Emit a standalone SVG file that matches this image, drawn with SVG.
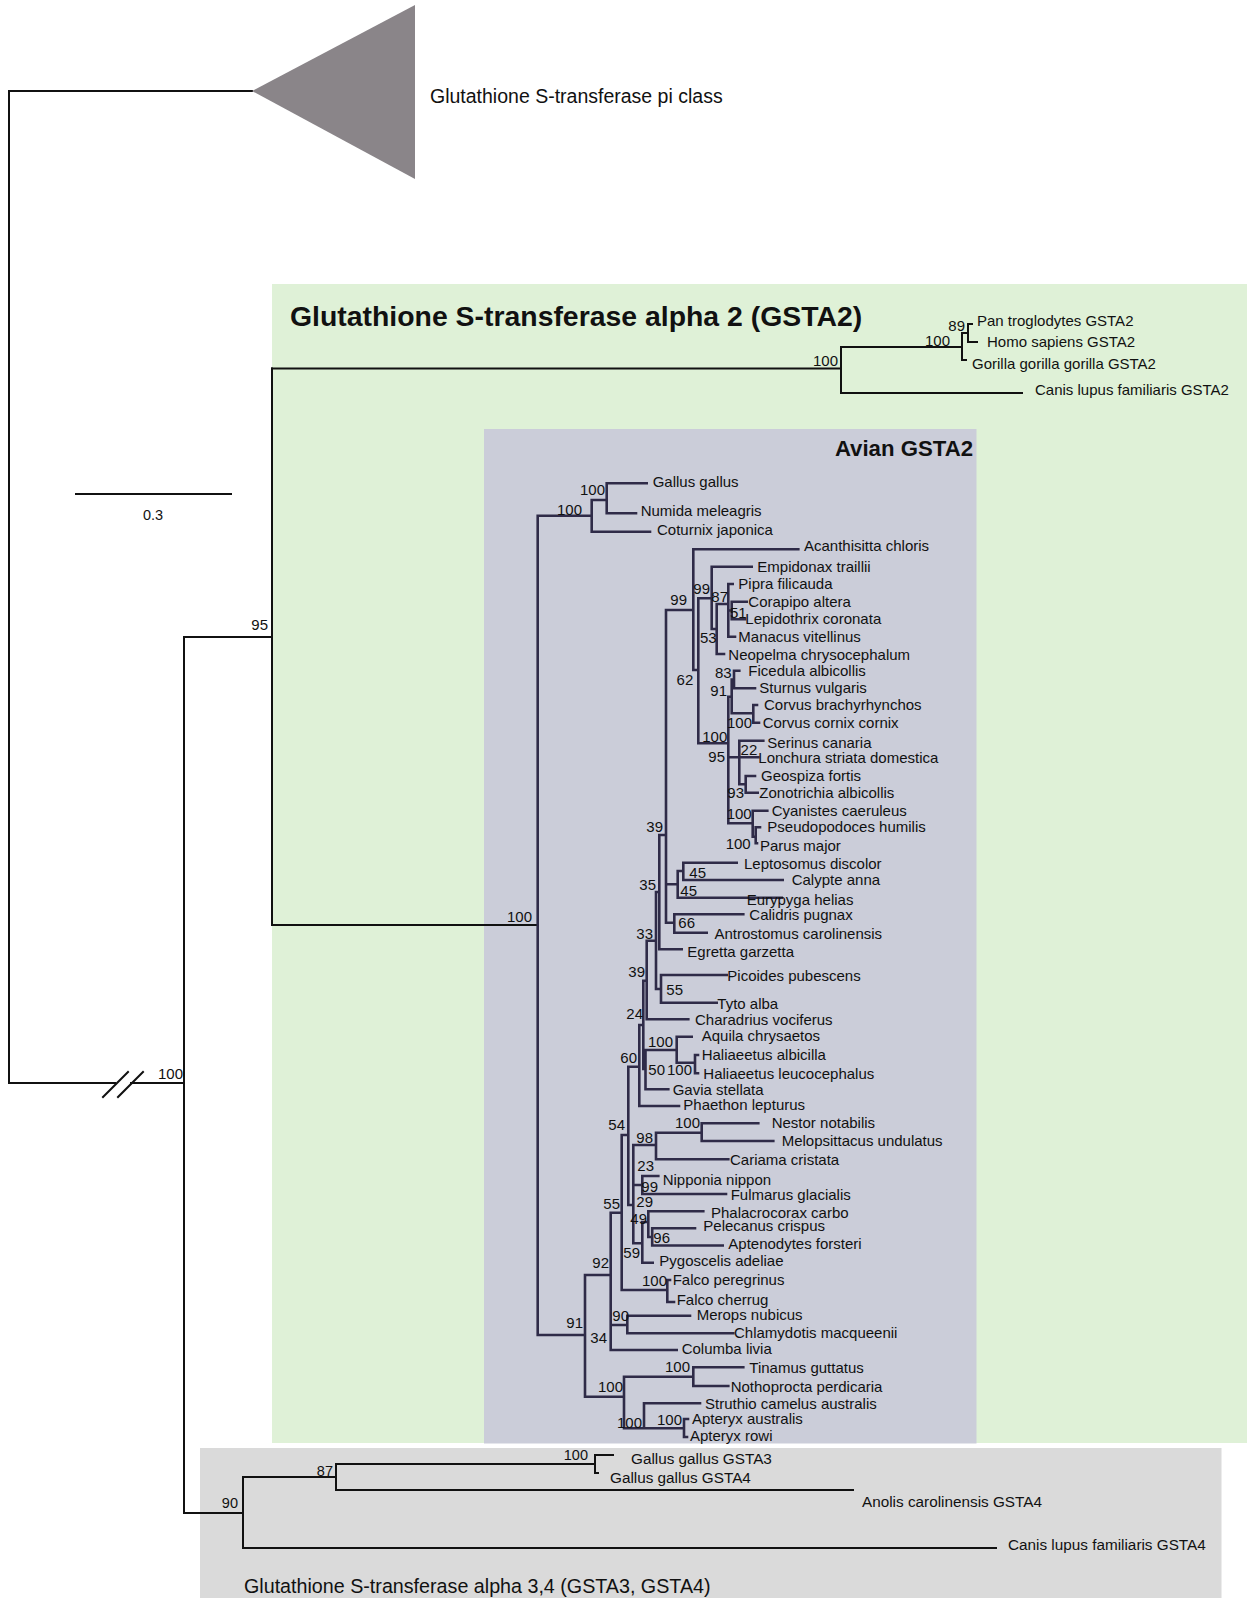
<svg xmlns="http://www.w3.org/2000/svg" width="1247" height="1598" viewBox="0 0 1247 1598">
<style>
text{font-family:"Liberation Sans",Arial,sans-serif;fill:#111}
.t{font-size:15px}
.s{font-size:15px;text-anchor:end}
.b{font-size:15.3px}
.bs{font-size:14.5px;text-anchor:end}
.ln{fill:none;stroke:#111;stroke-width:2;stroke-linecap:square}
.av{fill:none;stroke:#2f2b48;stroke-width:2.6;stroke-linecap:square}
</style>
<rect width="1247" height="1598" fill="#fff"/>
<g id="box-gsta2"><rect x="272" y="284" width="975" height="1159" fill="#dff1d7"/></g>
<g id="box-avian"><rect x="484" y="429" width="492.5" height="1014.5" fill="#cbcdd9"/></g>
<g id="box-gsta34"><rect x="200" y="1448" width="1021.5" height="150" fill="#dadada"/></g>

<g id="connectors">
<path class="ln" d="M9 91H252M9 91V1083M9 1083H115M131 1083H184M184 637V1513M184 637H272M272 368.5V925M272 925H537.7"/>
<path class="ln" d="M103 1097L128 1072M118 1097L143 1072"/>
<path class="ln" d="M272 368.5H841M841 347V393M841 347H962M962 333V360M962 333H968M968 324V342M968 324H972M968 342H977M962 360H966M841 393H1022"/>
<path class="ln" d="M184 1513H243M243 1477V1548M243 1477H336M336 1464V1490M336 1464H595M595 1455V1473M595 1455H613M595 1473H598M336 1490H853M243 1548H996"/>
<path class="ln" d="M76 494H231"/>
<path class="av" d="M537.7 515.7V1335
M537.7 515.7H591.7M591.7 500V531.7M591.7 500H606.7M606.7 483.3V513.3M606.7 483.3H646.7M606.7 513.3H636M591.7 531.7H650
M537.7 1335H585M585 1275V1396.7
M585 1396.7H624M624 1376.7V1428.3M624 1376.7H693.3M693.3 1367.3V1386M693.3 1367.3H743.3M693.3 1386H728.3M624 1428.3H644M644 1403.3V1428.3M644 1403.3H700M644 1428.3H684M684 1419V1437M684 1419H688M684 1437H687
M585 1275H610.7M610.7 1212.7V1350M610.7 1325H627.3M627.3 1315.7V1333.3M627.3 1315.7H690M627.3 1333.3H733.3M610.7 1350H676.7
M610.7 1212.7H621.7M621.7 1135V1290M621.7 1290H667.3M667.3 1280V1302M667.3 1280H670M667.3 1302H674
M621.7 1135H628.3M628.3 1066.7V1205M628.3 1205H633.3M633.3 1145V1243.3
M633.3 1145H656M656 1132.7V1159.3M656 1132.7H701.7M701.7 1123.3V1141M701.7 1123.3H758.3M701.7 1141H773.3M656 1159.3H728.3
M633.3 1185H642.3M642.3 1176V1194M642.3 1176H658.3M642.3 1194H726
M633.3 1243.3H642.3M642.3 1222V1262.7M642.3 1222H648.3M648.3 1211.2V1237M648.3 1211.2H703.3M648.3 1237H652.2M652.2 1228.3V1245.5M652.2 1228.3H695M652.2 1245.5H722.7M642.3 1262.7H652.7
M628.3 1066.7H639.3M639.3 1025V1106M639.3 1106H679
M639.3 1025H643.3M643.3 980.7V1069M643.3 1069H645.5M645.5 1050V1089.3M645.5 1089.3H668.3M645.5 1050H676.7M676.7 1036.7V1062.7M676.7 1036.7H691.7M676.7 1062.7H695M695 1055V1073.3M695 1055H698M695 1073.3H698
M643.3 980.7H646.7M646.7 940.7V1019.3M646.7 1019.3H688.3
M646.7 940.7H656M656 892V989M656 989H661M661 975V1002.7M661 975H726.7M661 1002.7H716.7
M656 892H659.3M659.3 835V949.3M659.3 949.3H681.7
M659.3 835H666M666 610V922.7M666 884.3H677.7M677.7 871V897.7M677.7 871H683.3M683.3 862.7V880M683.3 862.7H736.7M683.3 880H782.7M677.7 897.7H781.7M666 922.7H674.3M674.3 914.3V932.7M674.3 914.3H743.3M674.3 932.7H706.7
M666 610H693.3M693.3 549.3V670M693.3 549.3H798.3M693.3 670H698.3M698.3 598.3V743.3
M698.3 598.3H711.7M711.7 566.7V629M711.7 566.7H751.7M711.7 629H716.7M716.7 604V654M716.7 654H724M716.7 604H728.3M728.3 584V636.7M728.3 584H732.7M728.3 636.7H735M728.3 610.5H731.7M731.7 601.7V619.3M731.7 601.7H746.7M731.7 619.3H745
M698.3 743.3H728.3M728.3 696.7V823.3M728.3 696.7H731.7M731.7 679.5V713.3M731.7 679.5H734M734 670.7V688.3M734 670.7H739.3M734 688.3H755M731.7 713.3H753.3M753.3 705V722.7M753.3 705H757M753.3 722.7H759
M728.3 757.3H758.3M739.3 740.7V784.3M739.3 740.7H763.3M739.3 784.3H745.7M745.7 776V792.7M745.7 776H755M745.7 792.7H757.7
M728.3 823.3H752.7M752.7 810.7V836.7M752.7 810.7H767.3M752.7 836.7H755.7M755.7 827.3V843.3M755.7 827.3H760M755.7 843.3H757"/>
</g>

<g id="pi-class">
<polygon points="252,91 415,5 415,179" fill="#8a8589"/>
<text x="430" y="103" style="font-size:19.5px">Glutathione S-transferase pi class</text>
</g>

<g id="titles">
<text x="290" y="326" style="font-size:28.4px;font-weight:bold">Glutathione S-transferase alpha 2 (GSTA2)</text>
<text x="973" y="455.5" style="font-size:22.2px;font-weight:bold;text-anchor:end">Avian GSTA2</text>
<text x="244" y="1593" style="font-size:19.7px">Glutathione S-transferase alpha 3,4 (GSTA3, GSTA4)</text>
</g>

<g id="scale"><text x="153" y="520" style="font-size:14.5px;text-anchor:middle">0.3</text></g>

<g id="outer-support">
<text class="s" x="183" y="1079">100</text>
<text class="s" x="268" y="630">95</text>
<text class="s" x="532" y="921.5">100</text>
<text class="s" x="838" y="365.5">100</text>
<text class="s" x="950" y="345.5">100</text>
<text class="s" x="965" y="331">89</text>
<text class="bs" x="238" y="1508">90</text>
<text class="bs" x="333" y="1476">87</text>
<text class="bs" x="588" y="1460">100</text>
</g>

<g id="mammal-gsta2">
<g id="n-pan"><text class="t" x="977" y="325.5">Pan troglodytes GSTA2</text></g>
<g id="n-homo"><text class="t" x="987" y="346.5">Homo sapiens GSTA2</text></g>
<g id="n-gorilla"><text class="t" x="972" y="368.5">Gorilla gorilla gorilla GSTA2</text></g>
<g id="n-canis2"><text class="t" x="1035" y="394.5">Canis lupus familiaris GSTA2</text></g>
</g>

<g id="gsta34">
<g id="n-gg3"><text class="b" x="631" y="1464">Gallus gallus GSTA3</text></g>
<g id="n-gg4"><text class="b" x="610" y="1483">Gallus gallus GSTA4</text></g>
<g id="n-anolis"><text class="b" x="862" y="1507">Anolis carolinensis GSTA4</text></g>
<g id="n-canis4"><text class="b" x="1008" y="1550">Canis lupus familiaris GSTA4</text></g>
</g>

<g id="avian-taxa">
<g id="a1"><text class="t" x="652.7" y="487.4">Gallus gallus</text></g>
<g id="a2"><text class="t" x="640.7" y="516.4">Numida meleagris</text></g>
<g id="a3"><text class="t" x="657" y="535.4">Coturnix japonica</text></g>
<g id="a4"><text class="t" x="804" y="550.9">Acanthisitta chloris</text></g>
<g id="a5"><text class="t" x="757.3" y="572.1">Empidonax traillii</text></g>
<g id="a6"><text class="t" x="738.3" y="589.4">Pipra filicauda</text></g>
<g id="a7"><text class="t" x="748.3" y="606.7">Corapipo altera</text></g>
<g id="a8"><text class="t" x="745.3" y="624.4">Lepidothrix coronata</text></g>
<g id="a9"><text class="t" x="738.3" y="642.1">Manacus vitellinus</text></g>
<g id="a10"><text class="t" x="728.3" y="660.4">Neopelma chrysocephalum</text></g>
<g id="a11"><text class="t" x="748.3" y="676.1">Ficedula albicollis</text></g>
<g id="a12"><text class="t" x="759.3" y="693.1">Sturnus vulgaris</text></g>
<g id="a13"><text class="t" x="764" y="710.4">Corvus brachyrhynchos</text></g>
<g id="a14"><text class="t" x="762.7" y="728.1">Corvus cornix cornix</text></g>
<g id="a15"><text class="t" x="767.3" y="748.1">Serinus canaria</text></g>
<g id="a16"><text class="t" x="758.3" y="763.4">Lonchura striata domestica</text></g>
<g id="a17"><text class="t" x="761" y="781.4">Geospiza fortis</text></g>
<g id="a18"><text class="t" x="759.3" y="798.4">Zonotrichia albicollis</text></g>
<g id="a19"><text class="t" x="771.7" y="816.4">Cyanistes caeruleus</text></g>
<g id="a20"><text class="t" x="767.3" y="832.4">Pseudopodoces humilis</text></g>
<g id="a21"><text class="t" x="760" y="851.1">Parus major</text></g>
<g id="a22"><text class="t" x="744" y="868.7">Leptosomus discolor</text></g>
<g id="a23"><text class="t" x="791.7" y="885.4">Calypte anna</text></g>
<g id="a24"><text class="t" x="746.7" y="904.7">Eurypyga helias</text></g>
<g id="a25"><text class="t" x="749.3" y="919.7">Calidris pugnax</text></g>
<g id="a26"><text class="t" x="714.5" y="938.7">Antrostomus carolinensis</text></g>
<g id="a27"><text class="t" x="687.3" y="957.1">Egretta garzetta</text></g>
<g id="a28"><text class="t" x="727.3" y="981.1">Picoides pubescens</text></g>
<g id="a29"><text class="t" x="717.3" y="1008.7">Tyto alba</text></g>
<g id="a30"><text class="t" x="695" y="1025.4">Charadrius vociferus</text></g>
<g id="a31"><text class="t" x="701.7" y="1041.1">Aquila chrysaetos</text></g>
<g id="a32"><text class="t" x="701.7" y="1060.4">Haliaeetus albicilla</text></g>
<g id="a33"><text class="t" x="703.3" y="1078.7">Haliaeetus leucocephalus</text></g>
<g id="a34"><text class="t" x="672.7" y="1095.4">Gavia stellata</text></g>
<g id="a35"><text class="t" x="683.3" y="1110.4">Phaethon lepturus</text></g>
<g id="a36"><text class="t" x="771.7" y="1128.4">Nestor notabilis</text></g>
<g id="a37"><text class="t" x="781.7" y="1146.4">Melopsittacus undulatus</text></g>
<g id="a38"><text class="t" x="730" y="1165.4">Cariama cristata</text></g>
<g id="a39"><text class="t" x="662.7" y="1185.4">Nipponia nippon</text></g>
<g id="a40"><text class="t" x="730.7" y="1200.4">Fulmarus glacialis</text></g>
<g id="a41"><text class="t" x="711" y="1218.1">Phalacrocorax carbo</text></g>
<g id="a42"><text class="t" x="703.3" y="1231.1">Pelecanus crispus</text></g>
<g id="a43"><text class="t" x="728.3" y="1249.4">Aptenodytes forsteri</text></g>
<g id="a44"><text class="t" x="659.3" y="1266.4">Pygoscelis adeliae</text></g>
<g id="a45"><text class="t" x="672.7" y="1285.4">Falco peregrinus</text></g>
<g id="a46"><text class="t" x="676.7" y="1305.4">Falco cherrug</text></g>
<g id="a47"><text class="t" x="696.7" y="1320.4">Merops nubicus</text></g>
<g id="a48"><text class="t" x="734" y="1338.1">Chlamydotis macqueenii</text></g>
<g id="a49"><text class="t" x="681.7" y="1354.4">Columba livia</text></g>
<g id="a50"><text class="t" x="749.3" y="1373.4">Tinamus guttatus</text></g>
<g id="a51"><text class="t" x="730.7" y="1392.4">Nothoprocta perdicaria</text></g>
<g id="a52"><text class="t" x="705" y="1409.4">Struthio camelus australis</text></g>
<g id="a53"><text class="t" x="692" y="1424.4">Apteryx australis</text></g>
<g id="a54"><text class="t" x="690" y="1441.4">Apteryx rowi</text></g>
</g>

<g id="avian-support">
<text class="s" x="582" y="515.4">100</text>
<text class="s" x="605" y="495.4">100</text>
<text class="s" x="687" y="605.4">99</text>
<text class="s" x="710" y="594.4">99</text>
<text class="s" x="728" y="602.4">87</text>
<text class="s" x="746.7" y="617.7">51</text>
<text class="s" x="716.7" y="642.7">53</text>
<text class="s" x="693.3" y="684.7">62</text>
<text class="s" x="731.7" y="677.7">83</text>
<text class="s" x="727" y="696.1">91</text>
<text class="s" x="752" y="728.1">100</text>
<text class="s" x="727.3" y="742.1">100</text>
<text class="s" x="725" y="762.4">95</text>
<text class="s" x="757.3" y="755.4">22</text>
<text class="s" x="744" y="798.1">93</text>
<text class="s" x="751.7" y="818.7">100</text>
<text class="s" x="750.7" y="849.4">100</text>
<text class="s" x="663" y="832.1">39</text>
<text class="s" x="706" y="878.4">45</text>
<text class="s" x="697" y="896.4">45</text>
<text class="s" x="656" y="890.4">35</text>
<text class="s" x="695" y="928.4">66</text>
<text class="s" x="653" y="939.4">33</text>
<text class="s" x="683" y="995.4">55</text>
<text class="s" x="645" y="977.4">39</text>
<text class="s" x="643" y="1019.4">24</text>
<text class="s" x="673" y="1047.4">100</text>
<text class="s" x="637" y="1063.4">60</text>
<text class="s" x="665" y="1075.4">50</text>
<text class="s" x="692" y="1075.4">100</text>
<text class="s" x="625" y="1130.4">54</text>
<text class="s" x="700" y="1128.4">100</text>
<text class="s" x="653" y="1143.4">98</text>
<text class="s" x="654" y="1171.4">23</text>
<text class="s" x="658" y="1192.4">99</text>
<text class="s" x="653" y="1207.4">29</text>
<text class="s" x="620" y="1209.4">55</text>
<text class="s" x="647" y="1224.4">49</text>
<text class="s" x="670" y="1243.4">96</text>
<text class="s" x="640" y="1258.4">59</text>
<text class="s" x="609" y="1268.4">92</text>
<text class="s" x="667" y="1286.4">100</text>
<text class="s" x="629" y="1321.1">90</text>
<text class="s" x="583" y="1328.4">91</text>
<text class="s" x="607" y="1343.4">34</text>
<text class="s" x="690" y="1372.4">100</text>
<text class="s" x="623" y="1392.4">100</text>
<text class="s" x="642" y="1428.4">100</text>
<text class="s" x="682" y="1425.4">100</text>
</g>
</svg>
